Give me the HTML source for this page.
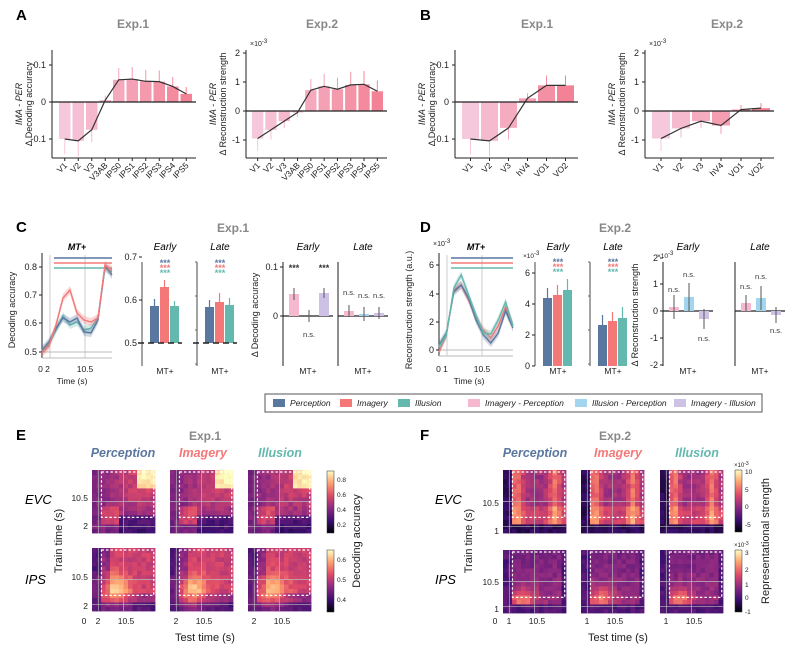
<!DOCTYPE html><html><head><meta charset="utf-8"><style>
body{margin:0;background:#fff}svg{display:block;font-family:"Liberation Sans",Arial,sans-serif}
</style></head><body>
<svg id="s" width="800" height="648" viewBox="0 0 800 648" xmlns="http://www.w3.org/2000/svg"></svg>
<script>
const S=document.getElementById('s');let H='';
function T(x,y,s,o={}){H+=`<text x="${x}" y="${y}" font-size="${o.fs||9}" fill="${o.c||'#222'}" text-anchor="${o.a||'middle'}" ${o.b?'font-weight="bold"':''} ${o.i?'font-style="italic"':''} ${o.r?`transform="rotate(${o.r} ${x} ${y})"`:''}>${s}</text>`}
function L(x1,y1,x2,y2,c='#222',w=1,d=''){H+=`<line x1="${x1}" y1="${y1}" x2="${x2}" y2="${y2}" stroke="${c}" stroke-width="${w}" ${d?`stroke-dasharray="${d}"`:''}/>`}
function R(x,y,w,h,c,o=''){if(h<0){y+=h;h=-h}H+=`<rect x="${x}" y="${y}" width="${w}" height="${h}" fill="${c}" ${o}/>`}
const PB='#5a77a0',IM='#f47878',IL='#63b9ae',PK='#f5b8cf',LB='#a2d6ee',LV='#cdc2e6';
[['A',14,20],['B',418,20],['C',14,232],['D',418,232],['E',14,440],['F',418,440]].forEach(a=>T(a[1]+2,a[2],a[0],{fs:15,b:1,a:'start',c:'#000'}));
[['Exp.1',133,28],['Exp.2',322,28],['Exp.1',537,28],['Exp.2',727,28],['Exp.1',233,232],['Exp.2',615,232],['Exp.1',205,440],['Exp.2',615,440]].forEach(a=>T(a[1],a[2],a[0],{fs:12,b:1,c:'#888'}));
function barPanel(ax,x0,dx,vals,zero,scale,ticks,labels,ylab1,ylab2,exp){
 const n=vals.length;const xr=x0+dx*n+2;
 L(ax,50,ax,158);L(ax,158,xr,158);
 ticks.forEach(t=>{const y=zero-t[0]*scale;L(ax-3,y,ax,y);T(ax-6,y+3,t[1],{fs:9,a:'end'})});
 const pts=[];
 vals.forEach((v,i)=>{const x=x0+dx*i;const k=i/(n-1);
  const col=`rgb(${246-k*2},${200-k*70},${220-k*70})`;
  R(x,zero,dx-2,-v*scale,col);
  const e=(i<4?0.3:0.35)*Math.abs(v)*scale+4;const top=zero-v*scale-(v>0?e:-e);
  L(x+dx/2-1,zero-v*scale,x+dx/2-1,top,col,1);
  pts.push(`${x+dx/2-1},${zero-v*scale}`);
  L(x+dx/2-1,158,x+dx/2-1,161);
  T(x+dx/2+2,166,labels[i],{fs:8.5,a:'end',r:-45});
 });
 L(ax,zero,xr,zero,'#222',1.3);
 H+=`<polyline points="${pts.join(' ')}" fill="none" stroke="#333" stroke-width="1.2"/>`;
 T(ax-30,104,ylab1,{fs:9,i:1,r:-90});T(ax-20,104,ylab2,{fs:9,r:-90});
 if(exp)T(ax+4,46,'×10<tspan font-size="6" dy="-3">-3</tspan>',{fs:7,a:'start'});
}
const lA=['V1','V2','V3','V3AB','IPS0','IPS1','IPS2','IPS3','IPS4','IPS5'],lB=['V1','V2','V3','hV4','VO1','VO2'];
barPanel(52,59,13.5,[-.1,-.105,-.075,.005,.06,.062,.056,.055,.042,.022],102,370,[[.1,'0.1'],[0,'0'],[-.1,'-0.1']],lA,'IMA - PER','Δ Decoding accuracy');
barPanel(246,252,13.3,[-.95,-.65,-.35,-.05,.72,.85,.75,.9,.92,.68],111,29,[[2,'2'],[1,'1'],[0,'0'],[-1,'-1']],lA,'IMA - PER','Δ Reconstruction strength',1);
barPanel(455,462,19,[-.1,-.105,-.07,.01,.045,.045],102,370,[[.1,'0.1'],[0,'0'],[-.1,'-0.1']],lB,'IMA - PER','Δ Decoding accuracy');
barPanel(645,652,20,[-.95,-.6,-.35,-.5,.05,.1],111,29,[[2,'2'],[1,'1'],[0,'0'],[-1,'-1']],lB,'IMA - PER','Δ Reconstruction strength',1);
function timePlot(ax,xr,yb,ticks,series,hl,xl,ylab,exp){
 L(ax,253,ax,yb+6);L(ax,yb+6,xr,yb+6,'#bbb');
 ticks.forEach(t=>{L(ax-3,t[0],ax,t[0]);T(ax-5,t[0]+3,t[1],{fs:9,a:'end'})});
 L(ax+8,255,ax+8,yb+6,'#ccc');L(ax+43,255,ax+43,yb+6,'#ccc');L(ax,yb,xr,yb,'#bbb');
 hl.forEach((c,i)=>L(ax+12,258+i*5,xr,258+i*5,c,1.5));
 series.forEach(s=>{const n=s.v.length;const p=s.v.map((v,i)=>[ax+i*(xr-ax)/(n-1),v]);
  H+=`<polygon points="${p.map(q=>q[0]+','+(q[1]-4)).join(' ')} ${p.slice().reverse().map(q=>q[0]+','+(q[1]+4)).join(' ')}" fill="${s.c}" opacity="0.3"/>`;
  H+=`<polyline points="${p.map(q=>q.join(',')).join(' ')}" fill="none" stroke="${s.c}" stroke-width="1.4"/>`});
 T((ax+xr)/2,250,'MT+',{fs:9,b:1,i:1,c:'#000'});
 T(xl[0][0],372,xl[0][1],{fs:8.5});T(ax+43,372,'10.5',{fs:8.5});T(ax+30,384,'Time (s)',{fs:8.5});
 T(ax-27,310,ylab,{fs:9,r:-90});
 if(exp)T(ax-6,246,'×10<tspan font-size="6" dy="-3">-3</tspan>',{fs:7,a:'start'});
}
timePlot(42,112,352,[[267,'0.8'],[295,'0.7'],[323,'0.6'],[352,'0.5']],[
 {c:IL,v:[351,344,330,316,325,322,330,328,318,268,272]},
 {c:PB,v:[350,342,328,318,322,318,332,333,320,266,275]},
 {c:IM,v:[353,346,325,298,290,313,320,322,318,265,270]}],[PB,IM,IL],[[44,'0 2']],'Decoding accuracy');
timePlot(439,513,350,[[265,'6'],[294,'4'],[322,'2'],[350,'0']],[
 {c:IM,v:[352,335,290,285,300,318,330,338,326,307,325]},
 {c:PB,v:[345,333,292,285,298,320,335,343,333,311,328]},
 {c:IL,v:[347,335,288,275,295,315,333,334,320,302,326]}],[PB,IM,IL],[[442,'0 1']],'Reconstruction strength (a.u.)',1);
function condBars(ax,base,vals,title,ticks,dash,exp,stars){
 L(ax,262,ax,366,'#666',1.2);
 if(ticks)ticks.forEach(t=>{L(ax-3,t[0],ax,t[0]);T(ax-5,t[0]+3,t[1],{fs:9,a:'end'})});
 else [0,1,2,3].forEach(i=>L(ax-2,262+i*34,ax,262+i*34,'#666'));
 [PB,IM,IL].forEach((c,i)=>{const x=ax+8+i*10;const h=vals[i][0];R(x,base-h,9,h,c);L(x+4.5,base-h,x+4.5,base-h-vals[i][1],c,1.2)});
 if(dash)L(ax-4,base,ax+40,base,'#222',1.5,'6,4');
 T(ax+23,250,title,{fs:10,i:1,c:'#000'});T(ax+23,374,'MT+',{fs:8.5});
 [PB,IM,IL].forEach((c,i)=>T(ax+23,stars+i*5,'***',{fs:9,c:c,b:1}));
 if(exp)T(ax-12,258,'×10<tspan font-size="6" dy="-3">-3</tspan>',{fs:6.5,a:'start'});
}
condBars(142,343,[[37,7],[56,7],[37,5]],'Early',[[257,'0.7'],[300,'0.6'],[343,'0.5']],1,0,266);
condBars(197,343,[[36,7],[41,9],[38,7]],'Late',null,1,0,266);
condBars(535,366,[[68,10],[71,10],[76,11]],'Early',[[273,'6'],[304,'4'],[335,'2'],[366,'0']],0,1,265);
condBars(590,366,[[41,10],[45,9],[48,11]],'Late',null,0,0,265);
function deltaBars(ax,zero,vals,title,ticks,ylab,exp){
 L(ax,262,ax,366,'#444',1.2);L(ax,zero,ax+50,zero,'#222',1.2);
 if(ticks)ticks.forEach(t=>{L(ax-3,t[0],ax,t[0]);T(ax-5,t[0]+3,t[1],{fs:9,a:'end'})});
 [PK,LB,LV].forEach((c,i)=>{const x=ax+6+i*15;const v=vals[i];R(x,zero,10,-v[0],c);L(x+5,zero-v[0]-v[1],x+5,zero-v[0]+v[1],'#555',1);
  T(x+5,v[3],v[2],{fs:v[2]=='***'?9:7.5,c:'#333',b:v[2]=='***'})});
 T(ax+25,250,title,{fs:10,i:1,c:'#000'});T(ax+25,374,'MT+',{fs:8.5});
 if(ylab)T(ax-25,315,ylab,{fs:9,r:-90});
 if(exp)T(ax-6,258,'×10<tspan font-size="6" dy="-3">-3</tspan>',{fs:6.5,a:'start'});
}
deltaBars(283,316,[[22,6,'***',271],[0,6,'n.s.',337],[23,5,'***',271]],'Early',[[267,'0.1'],[316,'0']],'Δ Decoding accuracy');
deltaBars(338,316,[[5,6,'n.s.',295],[2,7,'n.s.',298],[3,6,'n.s.',298]],'Late',null);
deltaBars(663,311,[[4,12,'n.s.',292],[14,14,'n.s.',277],[-8,10,'n.s.',341]],'Early',[[258,'2'],[284,'1'],[311,'0'],[338,'-1'],[365,'-2']],'Δ Reconstruction strength',1);
deltaBars(735,311,[[8,8,'n.s.',289],[13,12,'n.s.',279],[-4,8,'n.s.',333]],'Late',null);
R(265,394,497,18,'#fff','stroke="#555" stroke-width="1"');
[[273,PB,'Perception'],[340,IM,'Imagery'],[398,IL,'Illusion'],[468,PK,'Imagery - Perception'],[575,LB,'Illusion - Perception'],[674,LV,'Imagery - Illusion']].forEach(l=>{R(l[0],399,12,8,l[1]);T(l[0]+17,406,l[2],{fs:8.5,i:1,a:'start'})});
const mg=[[0,[0,0,4]],[.2,[59,15,112]],[.4,[140,41,129]],[.6,[222,73,104]],[.8,[254,159,109]],[1,[252,253,191]]];
function cmap(t){t=Math.max(0,Math.min(1,t));for(let i=1;i<mg.length;i++){if(t<=mg[i][0]){const a=mg[i-1],b=mg[i],f=(t-a[0])/(b[0]-a[0]);return 'rgb('+a[1].map((v,k)=>Math.round(v+(b[1][k]-v)*f)).join(',')+')'}}}
let seed=7;function rnd(){seed=(seed*16807)%2147483647;return seed/2147483647}
function heat(x,y,w,h,fn){const n=14,cw=w/n,ch=h/n;
 for(let i=0;i<n;i++)for(let j=0;j<n;j++){const u=i/(n-1),v=j/(n-1);R((x+i*cw).toFixed(1),(y+h-(j+1)*ch).toFixed(1),(cw+.4).toFixed(1),(ch+.4).toFixed(1),cmap(fn(u,v)+(rnd()-.5)*.1))}
 L(x+w*.1,y,x+w*.1,y+h,'#bbb',0.7);L(x+w*.5,y,x+w*.5,y+h,'#bbb',0.7);L(x,y+h*.5,x+w,y+h*.5,'#bbb',0.7);L(x,y+h*.9,x+w,y+h*.9,'#bbb',0.7);
 H+=`<rect x="${x+w*.15}" y="${y+2}" width="${w*.83}" height="${h*.72}" fill="none" stroke="#fff" stroke-width="1.2" stroke-dasharray="2.5,2"/>`;
}
const e1evc=(u,v)=>0.35+0.3*Math.min(u,v)+0.35*(u>.7&&v>.7?1:0)+(u>.15&&v>.15&&u<.45&&v<.45?0.15:0)-(v<.25&&u>.45?0.15:0);
const e1ips=(u,v)=>0.4+0.35*Math.exp(-((u-.35)**2+(v-.3)**2)/0.08)+0.15*(u>.25&&v>.25?1:0)-0.15*(u<.1||v<.1?1:0);
const e2evc=(u,v)=>(u<.08||v<.08)?0.15:0.45+0.25*(Math.exp(-((u-.2)**2)/0.01)+Math.exp(-((u-.85)**2)/0.01))+0.1*(v<.4?1:0);
const e2ips=(u,v)=>(u<.1||v<.1||u>.95)?0.25:0.45+0.3*Math.exp(-((u-.3)**2+(v-.2)**2)/0.04)-0.1*v;
function heatSet(xs,ys,f1,f2){xs.forEach(x=>{heat(x,ys[0],63,63,f1);heat(x,ys[1],63,63,f2)})}
heatSet([92,170,248],[470,548],e1evc,e1ips);
heatSet([503,581,660],[470,550],e2evc,e2ips);
function grad(id){return `<defs><linearGradient id="${id}" x1="0" y1="1" x2="0" y2="0">${mg.map(m=>`<stop offset="${m[0]}" stop-color="rgb(${m[1]})"/>`).join('')}</linearGradient></defs>`}
H+=grad('g1');
[[327,471,[[480,'0.8'],[495,'0.6'],[510,'0.4'],[525,'0.2']]],[327,550,[[560,'0.6'],[580,'0.5'],[600,'0.4']]],[735,470,[[472,'10'],[490,'5'],[507,'0'],[525,'-5']]],[735,550,[[553,'3'],[570,'2'],[585,'1'],[598,'0'],[612,'-1']]]].forEach(c=>{
 R(c[0],c[1],7,62,'url(#g1)','stroke="#333" stroke-width="0.5"');c[2].forEach(t=>T(c[0]+10,t[0]+2,t[1],{fs:6.5,a:'start'}))});
T(734,467,'×10<tspan font-size="5" dy="-2">-3</tspan>',{fs:6,a:'start'});T(734,547,'×10<tspan font-size="5" dy="-2">-3</tspan>',{fs:6,a:'start'});
T(360,541,'Decoding accuracy',{fs:11,r:-90});T(769,541,'Representational strength',{fs:11,r:-90});
[['Perception',123,PB],['Imagery',203,IM],['Illusion',280,IL],['Perception',535,PB],['Imagery',618,IM],['Illusion',697,IL]].forEach(t=>T(t[1],457,t[0],{fs:12.5,b:1,i:1,c:t[2]}));
[[45,500,'EVC'],[45,580,'IPS'],[455,500,'EVC'],[455,580,'IPS']].forEach(t=>T(t[0]-20,t[1]+4,t[2],{fs:13,i:1,a:'start',c:'#000'}));
T(62,541,'Train time (s)',{fs:11,r:-90});T(472,541,'Train time (s)',{fs:11,r:-90});
T(205,641,'Test time (s)',{fs:11});T(618,641,'Test time (s)',{fs:11});
[[498,'10.5'],[526,'2'],[577,'10.5'],[606,'2']].forEach(t=>T(88,t[0]+3,t[1],{fs:8.5,a:'end'}));
[[503,'10.5'],[531,'1'],[582,'10.5'],[609,'1']].forEach(t=>T(499,t[0]+3,t[1],{fs:8.5,a:'end'}));
T(84,624,'0',{fs:8.5});[92,170,248].forEach(x=>{T(x+6,624,'2',{fs:8.5});T(x+34,624,'10.5',{fs:8.5})});
T(495,624,'0',{fs:8.5});[503,581,660].forEach(x=>{T(x+6,624,'1',{fs:8.5});T(x+34,624,'10.5',{fs:8.5})});
S.innerHTML=H;
</script></body></html>
